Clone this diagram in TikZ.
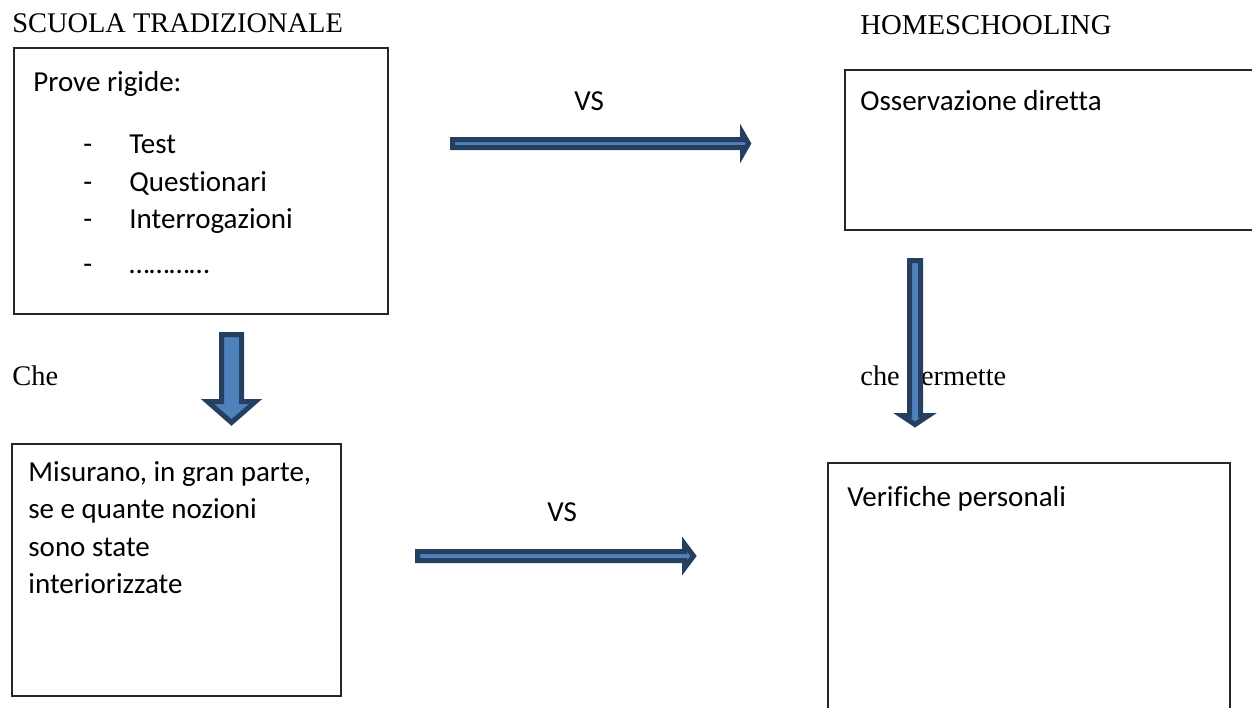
\documentclass[tikz,border=0pt]{standalone}
\usepackage{fontspec}
\setmainfont{Liberation Serif}
\newfontfamily\boxfont[Ligatures={NoCommon}]{Carlito}
\usepackage{tikz}
\usetikzlibrary{positioning}
\definecolor{arrowline}{RGB}{36,63,96}
\definecolor{arrowfill}{RGB}{79,129,189}
\tikzset{node distance=2.0cm, auto}
\tikzset{
  box/.style={draw=black!85, line width=0.8pt, inner sep=0pt, anchor=north west},
  boxtext/.style={font=\boxfont\fontsize{14.5pt}{18.75pt}\selectfont, align=left, inner sep=0pt},
  title/.style={font=\fontsize{14.2pt}{17pt}\selectfont, inner sep=0pt, anchor=base west},
  blockarrow/.style={draw=arrowline, fill=arrowfill, line width=2.5pt, line join=miter}
}

\begin{document}
\begin{tikzpicture}[x=0.5pt, y=-0.5pt]
\useasboundingbox (0,0) rectangle (1252,707);
\clip (0,0) rectangle (1252,707);

% headings
\node[title] (scuola) at (12,32) {SCUOLA TRADIZIONALE};
\node[title, font=\fontsize{14.4pt}{17pt}\selectfont] (home) at (860,34) {HOMESCHOOLING};

% boxes
\node[box, minimum width=187pt, minimum height=133pt] (prove) at (13,47) {};
\node[box, minimum width=209pt, minimum height=80pt] (osserv) at (844,69) {};
\node[box, minimum width=164.5pt, minimum height=126pt] (misura) at (11,443) {};
\node[box, minimum width=201pt, minimum height=132pt] (verif) at (827,462) {};

\node[boxtext, below right=12pt and 10pt of prove.north west] (provetxt) {Prove rigide:\\[12.25pt]
  \hspace*{25pt}\makebox[23pt][l]{-}Test\\
  \hspace*{25pt}\makebox[23pt][l]{-}Questionari\\
  \hspace*{25pt}\makebox[23pt][l]{-}Interrogazioni\\[3.5pt]
  \hspace*{25pt}\makebox[23pt][l]{-}…………};
\node[boxtext, below right=10.5pt and 8pt of osserv.north west] (osservtxt) {Osservazione diretta};
\node[boxtext, below right=9pt and 8.5pt of misura.north west] (misuratxt) {Misurano, in gran parte,\\
  se e quante nozioni\\ sono state\\ interiorizzate};
\node[boxtext, below right=12pt and 10pt of verif.north west] (veriftxt) {Verifiche personali};

% labels
\node[boxtext, anchor=base west] (vs1) at (574,110) {VS};
\node[boxtext, anchor=base west] (vs2) at (547,521) {VS};
\node[title] (che) at (12,385) {Che};
\node[title] (chep) at (860,385) {che permette};

% block arrows
\coordinate (a1) at (452.5,143.5);
\coordinate (a2) at (231.5,334.5);
\coordinate (a3) at (417.5,556);
\coordinate (a4) at (915,260.5);
\draw[blockarrow, shift={(a1)}] (0,-4) -- (290,-4) -- (290,-10.5) -- (296,0) -- (290,10.5) -- (290,4) -- (0,4) -- cycle;
\draw[blockarrow, shift={(a3)}] (0,-4.5) -- (267,-4.5) -- (267,-12) -- (276,0) -- (267,12) -- (267,4.5) -- (0,4.5) -- cycle;
\draw[blockarrow, shift={(a2)}] (-10,0) -- (-10,67) -- (-24,67) -- (0,88) -- (24,67) -- (10,67) -- (10,0) -- cycle;
\draw[blockarrow, shift={(a4)}] (-5.5,0) -- (-5.5,155) -- (-13.5,155) -- (0,164) -- (13.5,155) -- (5.5,155) -- (5.5,0) -- cycle;
\end{tikzpicture}
\end{document}
